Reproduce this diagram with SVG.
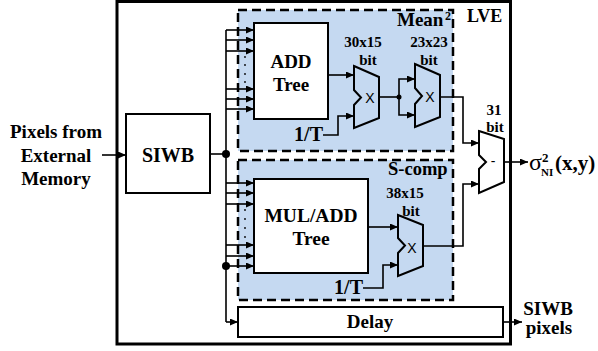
<svg xmlns="http://www.w3.org/2000/svg" width="598" height="351" viewBox="0 0 598 351">
<defs>
<marker id="ah" markerUnits="userSpaceOnUse" markerWidth="8" markerHeight="7" refX="8" refY="3.5" orient="auto">
<path d="M0,0 L8,3.5 L0,7 Z" fill="#000"/>
</marker>
<style>
.t{font-family:"Liberation Serif","Times New Roman",serif;font-weight:bold;fill:#000}
.s{font-family:"Liberation Sans",Arial,sans-serif;fill:#000}
.w{fill:none;stroke:#000;stroke-width:1.6}
.a{fill:none;stroke:#000;stroke-width:1.6;marker-end:url(#ah)}
.box{fill:#fff;stroke:#000;stroke-width:2}
.mx{fill:#c5d9f1;stroke:#000;stroke-width:2;stroke-linejoin:miter}
.dash{fill:#c5d9f1;stroke:#000;stroke-width:2.5;stroke-dasharray:9,5}
</style>
</defs>
<rect width="598" height="351" fill="#fff"/>

<g id="LVE">
<rect x="117" y="1.5" width="393.5" height="342.5" fill="#fff" stroke="#000" stroke-width="3"/>
<text class="t" x="467" y="22" font-size="18">LVE</text>
</g>

<g id="Mean2">
<rect class="dash" x="238" y="10" width="215" height="141"/>
<text class="t" x="397" y="26" font-size="19">Mean</text>
<text class="t" x="445" y="20" font-size="12">2</text>
</g>

<g id="Scomp">
<rect class="dash" x="238" y="160" width="215" height="140"/>
<text class="t" x="388" y="175" font-size="18.5">S-comp</text>
</g>

<g id="input">
<text class="t" x="56" y="138" font-size="19" text-anchor="middle">Pixels from</text>
<text class="t" x="56" y="162" font-size="19" text-anchor="middle">External</text>
<text class="t" x="56" y="185" font-size="19" text-anchor="middle">Memory</text>
</g>

<g id="SIWB">
<rect class="box" x="126" y="114" width="84" height="79" stroke-width="1.6"/>
<text class="t" x="168" y="162" font-size="20" text-anchor="middle">SIWB</text>
</g>

<g id="ADDTree">
<rect class="box" x="254" y="23" width="74" height="96"/>
<text class="t" x="291" y="68" font-size="19" text-anchor="middle">ADD</text>
<text class="t" x="291" y="91" font-size="19" text-anchor="middle">Tree</text>
</g>

<g id="MULADDTree">
<rect class="box" x="254" y="179" width="114" height="94"/>
<text class="t" x="311" y="222" font-size="19.5" text-anchor="middle">MUL/ADD</text>
<text class="t" x="311" y="245" font-size="19.5" text-anchor="middle">Tree</text>
</g>

<g id="Delay">
<rect class="box" x="238" y="307" width="265" height="30"/>
<text class="t" x="370" y="328" font-size="19" text-anchor="middle">Delay</text>
</g>

<g id="mult1">
<path class="mx" d="M354,66 L379,77 L379,118 L354,128 L354,105 L361,97.5 L354,90 Z"/>
<text class="s" x="370" y="103" font-size="14" text-anchor="middle">X</text>
<text class="t" x="363" y="47" font-size="15" text-anchor="middle">30x15</text>
<text class="t" x="368" y="65" font-size="15" text-anchor="middle">bit</text>
</g>

<g id="mult2">
<path class="mx" d="M415,64 L440,75 L440,117 L415,127 L415,104 L422,96 L415,88 Z"/>
<text class="s" x="430" y="102" font-size="14" text-anchor="middle">X</text>
<text class="t" x="429" y="47" font-size="15" text-anchor="middle">23x23</text>
<text class="t" x="429" y="65" font-size="15" text-anchor="middle">bit</text>
</g>

<g id="mult3">
<path class="mx" d="M398,215 L423,225 L423,266 L398,276 L398,253 L405,245.5 L398,238 Z"/>
<text class="s" x="412" y="253" font-size="14" text-anchor="middle">X</text>
<text class="t" x="405" y="198" font-size="15" text-anchor="middle">38x15</text>
<text class="t" x="411" y="216" font-size="15" text-anchor="middle">bit</text>
</g>

<g id="sub">
<path class="mx" d="M479,131 L504,139 L504,182 L479,193 L479,169 L486,162 L479,155 Z" style="fill:#fff"/>
<text class="s" x="493" y="166" font-size="14" text-anchor="middle">-</text>
<text class="t" x="494" y="115" font-size="15" text-anchor="middle">31</text>
<text class="t" x="495" y="132" font-size="15" text-anchor="middle">bit</text>
</g>

<g id="invT1">
<text class="t" x="323" y="141" font-size="20" text-anchor="end">1/T</text>
</g>
<g id="invT2">
<text class="t" x="363" y="294" font-size="20" text-anchor="end">1/T</text>
</g>

<g id="output">
<text x="529" y="170" font-size="24" font-family="'Liberation Serif','Times New Roman',serif">σ</text>
<text class="t" x="542" y="162" font-size="13">2</text>
<text class="t" x="541" y="176" font-size="11">NI</text>
<text class="t" x="555" y="170" font-size="21">(x,y)</text>
</g>

<g id="siwbpixels">
<text class="t" x="548" y="315" font-size="19" text-anchor="middle">SIWB</text>
<text class="t" x="549" y="334" font-size="19" text-anchor="middle">pixels</text>
</g>

<g id="connectors">
<path class="a" d="M102,155 H126"/>
<path class="w" d="M210,154 H226"/>
<path class="w" d="M226,30 V322" stroke-width="2.4"/>
<circle cx="226" cy="154" r="4"/>
<circle cx="226" cy="266" r="4"/>
<path class="a" d="M226,30 H254"/>
<path class="a" d="M226,40 H254"/>
<path class="a" d="M226,51 H254"/>
<path class="a" d="M226,89 H254"/>
<path class="a" d="M226,99 H254"/>
<path class="a" d="M226,109 H254"/>
<path class="a" d="M226,183 H254"/>
<path class="a" d="M226,193 H254"/>
<path class="a" d="M226,204 H254"/>
<path class="a" d="M226,245 H254"/>
<path class="a" d="M226,256 H254"/>
<path class="a" d="M226,266 H254"/>
<g fill="#000">
<circle cx="245" cy="57" r="0.9"/><circle cx="245" cy="65" r="0.9"/><circle cx="245" cy="74" r="0.9"/><circle cx="245" cy="82" r="0.9"/>
<circle cx="245" cy="210" r="0.9"/><circle cx="245" cy="219" r="0.9"/><circle cx="245" cy="228" r="0.9"/><circle cx="245" cy="237" r="0.9"/>
</g>
<path class="a" d="M226,322 H238"/>
<path class="a" d="M503,322 H522"/>
<path class="a" d="M328,75 H354"/>
<path class="a" d="M323,135 H338 V116 H354"/>
<path class="w" d="M379,97 H399"/>
<circle cx="399" cy="97" r="2.5"/>
<path class="a" d="M399,97 V79 H415"/>
<path class="a" d="M399,97 V115 H415"/>
<path class="a" d="M440,97 H463 V143 H479"/>
<path class="a" d="M368,227 H398"/>
<path class="a" d="M363,288 H383 V265 H398"/>
<path class="a" d="M423,246 H463 V184 H479"/>
<path class="a" d="M504,162 H528"/>
</g>
</svg>
